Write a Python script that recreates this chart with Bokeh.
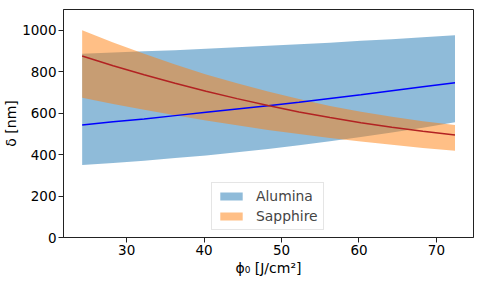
from bokeh.plotting import figure
from bokeh.models import Range1d, Legend, LegendItem, FixedTicker
from bokeh.embed import file_html
from bokeh.resources import INLINE

# fluence phi_0 [J/cm^2]
phi = [24.25, 28.25, 32.25, 36.25, 40.25, 44.25, 48.25, 52.25, 56.25, 60.25, 64.25, 68.25, 72.4]

# Alumina: mean, lower and upper bound of delta [nm]
alumina_mean = [543, 558, 572, 588, 604, 620, 636, 653, 671, 689, 708, 727, 747]
alumina_low = [350, 359, 370, 383, 396, 411, 427, 445, 464, 485, 507, 530, 556]
alumina_high = [887, 892, 898, 904, 911, 918, 925, 932, 940, 949, 957, 966, 976]

# Sapphire: mean, lower and upper bound of delta [nm]
sapphire_mean = [876, 829, 785, 744, 706, 670, 637, 606, 579, 554, 532, 513, 495]
sapphire_low = [674, 644, 616, 590, 565, 541, 519, 499, 480, 463, 447, 432, 419]
sapphire_high = [1000, 941, 886, 835, 787, 744, 704, 668, 635, 607, 582, 561, 543]

x_ticks = [30, 40, 50, 60, 70]
y_ticks = [0, 200, 400, 600, 800, 1000]

FONT = "DejaVu Sans"

p = figure(width=482, height=283, output_backend="svg", toolbar_location=None,
           x_range=Range1d(21.84, 74.79), y_range=Range1d(0, 1100),
           min_border_left=63, min_border_right=9, min_border_top=9,
           min_border_bottom=46)

r_al = p.varea(x=phi, y1=alumina_low, y2=alumina_high,
               fill_color="#1f77b4", fill_alpha=0.5)
r_sa = p.varea(x=phi, y1=sapphire_low, y2=sapphire_high,
               fill_color="#ff7f0e", fill_alpha=0.5)
p.line(phi, alumina_mean, line_color="blue", line_width=1.5)
p.line(phi, sapphire_mean, line_color="#b22222", line_width=1.5)

p.xgrid.visible = False
p.ygrid.visible = False
p.outline_line_color = "#222222"
p.outline_line_alpha = 1.0
p.outline_line_width = 1

for ax in (p.xaxis[0], p.yaxis[0]):
    ax.axis_line_color = "#222222"
    ax.major_tick_line_color = "#222222"
    ax.minor_tick_line_color = None
    ax.major_tick_out = 5
    ax.major_tick_in = 0
    ax.major_label_text_font = FONT
    ax.major_label_text_font_size = "13.5px"
    ax.major_label_text_color = "black"
    ax.axis_label_text_font = FONT
    ax.axis_label_text_font_size = "14px"
    ax.axis_label_text_font_style = "normal"
    ax.axis_label_text_color = "black"

p.xaxis[0].major_label_standoff = 2
p.yaxis[0].major_label_standoff = 2
p.xaxis[0].axis_label_standoff = 2
p.yaxis[0].axis_label_standoff = 0

p.xaxis[0].ticker = FixedTicker(ticks=x_ticks)
p.yaxis[0].ticker = FixedTicker(ticks=y_ticks)
p.xaxis[0].axis_label = "ϕ₀ [J/cm²]"
p.yaxis[0].axis_label = "δ [nm]"

legend = Legend(items=[LegendItem(label="Alumina", renderers=[r_al]),
                       LegendItem(label="Sapphire", renderers=[r_sa])],
                location=(148, 7), orientation="vertical",
                label_text_font=FONT, label_text_font_size="13.9px",
                glyph_width=28, glyph_height=10, label_standoff=11,
                label_height=16, spacing=4, padding=5, margin=0,
                border_line_color="#cccccc", border_line_width=1,
                background_fill_alpha=0.8)
p.add_layout(legend)

open("out.html", "w").write(file_html(p, INLINE))
